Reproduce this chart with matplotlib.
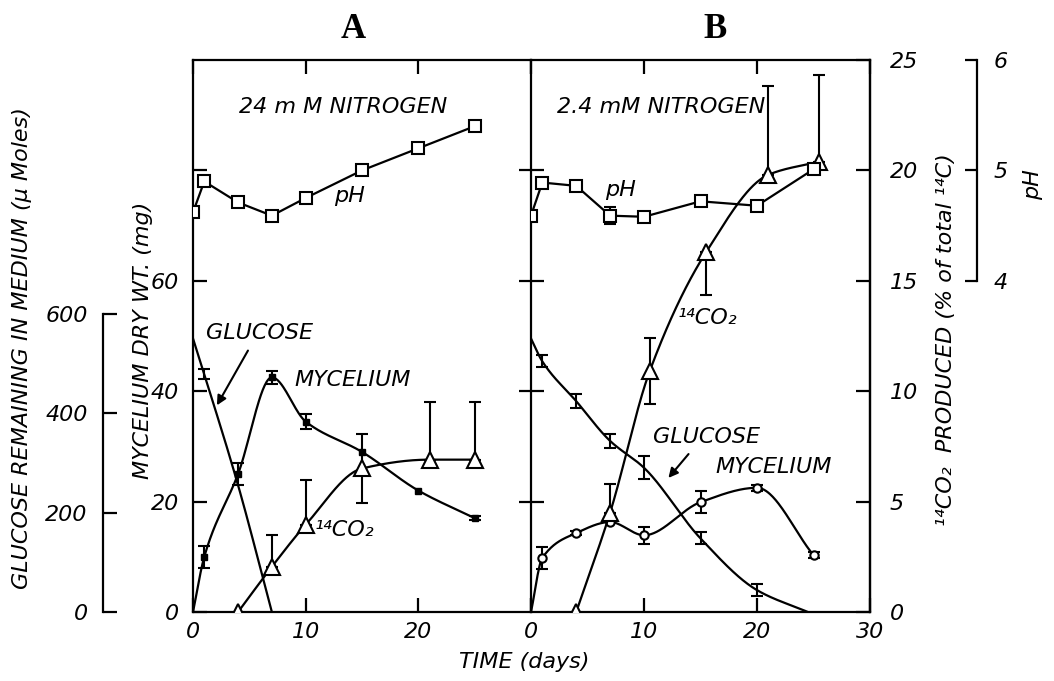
import numpy as np
import matplotlib
matplotlib.use("Agg")
import matplotlib.pyplot as plt

plt.rcParams['font.family'] = ['DejaVu Sans']
plt.rcParams['font.style'] = 'italic'
plt.rcParams['font.size'] = 16

# A: 24 mM nitrogen
a_ph_days = [0, 1, 4, 7, 10, 15, 20, 25]
a_ph = [4.62, 4.90, 4.71, 4.59, 4.75, 5.00, 5.20, 5.40]

a_myc_days = [0, 1, 4, 7, 10, 15, 20, 25]
a_myc = [0, 10, 25, 42.5, 34.5, 29, 22, 17]
a_myc_err = [0, 2, 2, 1.2, 1.4, 0, 0, 0.4]

a_glu_days = [0, 1, 4, 7]
a_glu = [550, 478, 255, 0]
a_glu_err = [0, 10, 0, 0]

a_co2_days = [4, 7, 10, 15, 21, 25]
a_co2 = [0, 2.05, 3.95, 6.5, 6.9, 6.9]
a_co2_lo = [0, 0, 0, 1.55, 0, 0]
a_co2_hi = [0, 1.45, 2.05, 1.55, 2.6, 2.6]

# B: 2.4 mM nitrogen
b_ph_days = [0, 1, 4, 7, 10, 15, 20, 25]
b_ph = [4.59, 4.89, 4.86, 4.59, 4.58, 4.72, 4.68, 5.01]
b_ph_err = [0, 0, 0.04, 0.08, 0, 0, 0, 0]

b_myc_days = [0, 1, 4, 7, 10, 15, 20, 25]
b_myc = [0, 9.8, 14.3, 16.3, 13.9, 19.9, 22.5, 10.3]
b_myc_err = [0, 2, 0.4, 0, 1.5, 2, 0.5, 0.6]

b_glu_days = [0, 1, 4, 7, 10, 15, 20, 24.5]
b_glu = [550, 504, 424, 344, 290, 148, 44, 0]
b_glu_err = [0, 12, 14, 14, 23, 12, 12, 0]

b_co2_days = [4, 7, 10.5, 15.5, 21, 25.5]
b_co2 = [0, 4.5, 10.9, 16.3, 19.8, 20.4]
b_co2_lo = [0, 0, 1.5, 1.95, 0, 0]
b_co2_hi = [0, 1.3, 1.5, 0, 4.0, 3.9]

W, H = 1054, 681
TOP, BOT = 60, 612
LW = 1.6
TXT = 16
TICK = 16


def rect(x0, x1, y0, y1):
    return [x0 / W, 1 - y1 / H, (x1 - x0) / W, (y1 - y0) / H]


def pchip(x, y, n=300):
    # monotone cubic through the measured points, for drawing the hand-drawn curves
    x = np.asarray(x, float)
    y = np.asarray(y, float)
    h = np.diff(x)
    d = np.diff(y) / h
    m = np.zeros_like(y)
    for k in range(1, len(x) - 1):
        if d[k - 1] * d[k] > 0:
            w1 = 2 * h[k] + h[k - 1]
            w2 = h[k] + 2 * h[k - 1]
            m[k] = (w1 + w2) / (w1 / d[k - 1] + w2 / d[k])
    m[0] = d[0]
    m[-1] = d[-1]
    xs = np.linspace(x[0], x[-1], n)
    i = np.clip(np.searchsorted(x, xs) - 1, 0, len(h) - 1)
    t = (xs - x[i]) / h[i]
    ys = ((2 * t**3 - 3 * t**2 + 1) * y[i] + (t**3 - 2 * t**2 + t) * h[i] * m[i]
          + (-2 * t**3 + 3 * t**2) * y[i + 1] + (t**3 - t**2) * h[i] * m[i + 1])
    return xs, ys


def bars(ax, x, y, lo, hi=None):
    if hi is None:
        hi = lo
    idx = [i for i in range(len(x)) if lo[i] > 0 or hi[i] > 0]
    ax.errorbar([x[i] for i in idx], [y[i] for i in idx],
                yerr=[[lo[i] for i in idx], [hi[i] for i in idx]],
                fmt='none', ecolor='k', elinewidth=1.5, capsize=4, capthick=1.5, zorder=3)


def make_panel(x0, x1):
    ax = fig.add_axes(rect(x0, x1, TOP, BOT))
    ax.set_xlim(0, 30)
    ax.set_ylim(0, 100)
    g = ax.twinx()
    g.set_ylim(0, 1110)
    c = ax.twinx()
    c.set_ylim(0, 25)
    p = ax.twinx()
    p.set_ylim(1, 6)
    for t in (g, c, p):
        t.set_axis_off()
    for s in ax.spines.values():
        s.set_linewidth(LW)
    ax.set_xticks([0, 10, 20, 30])
    ax.tick_params(axis='x', direction='in', length=10, width=LW, top=True, pad=7,
                   labelsize=TICK)
    return ax, g, c, p


fig = plt.figure(figsize=(W / 100, H / 100), dpi=100)

axA, gA, cA, pA = make_panel(193, 531)
axB, gB, cB, pB = make_panel(531, 870)

# panel A frame
axA.spines['right'].set_visible(False)
axA.set_xticklabels(['0', '10', '20', ''])
axA.set_yticks([0, 20, 40, 60, 80])
axA.set_yticklabels(['0', '20', '40', '60', ''])
axA.tick_params(axis='y', direction='in', length=10, width=LW, pad=10, labelsize=TICK)

# glucose axis, detached on the far left
gA.set_axis_on()
for s in ['top', 'right', 'bottom']:
    gA.spines[s].set_visible(False)
gA.spines['left'].set_visible(True)
gA.spines['left'].set_linewidth(LW)
gA.spines['left'].set_position(('axes', (103 - 193) / 338))
gA.spines['left'].set_bounds(0, 600)
gA.yaxis.set_ticks_position('left')
gA.set_yticks([0, 200, 400, 600])
gA.tick_params(axis='y', direction='in', length=10, width=LW, pad=11, labelsize=TICK)

# panel B frame
axB.set_xticklabels(['0', '10', '20', '30'])
axB.set_yticks([20, 40, 60, 80])
axB.set_yticklabels([])
axB.tick_params(axis='y', direction='inout', length=18, width=LW, right=False)

cB.set_axis_on()
for s in ['top', 'left', 'bottom']:
    cB.spines[s].set_visible(False)
cB.spines['right'].set_linewidth(LW)
cB.set_yticks([0, 5, 10, 15, 20, 25])
cB.tick_params(axis='y', direction='in', length=10, width=LW, pad=14, labelsize=TICK)

pB.set_axis_on()
for s in ['top', 'left', 'bottom']:
    pB.spines[s].set_visible(False)
pB.spines['right'].set_linewidth(LW)
pB.spines['right'].set_position(('axes', (977 - 531) / 339))
pB.spines['right'].set_bounds(4, 6)
pB.set_yticks([4, 5, 6])
pB.tick_params(axis='y', direction='in', length=9, width=LW, pad=12, labelsize=TICK)

# ---- data, panel A
pA.plot(a_ph_days, a_ph, 'k-', lw=LW, marker='s', ms=8, mfc='white', mew=1.5, zorder=4)

xs, ys = pchip(a_myc_days, a_myc)
axA.plot(xs, ys, 'k-', lw=LW)
axA.plot(a_myc_days[1:], a_myc[1:], 'ks', ms=4, zorder=4)
bars(axA, a_myc_days, a_myc, a_myc_err)

xs, ys = pchip(a_glu_days, a_glu)
gA.plot(xs, ys, 'k-', lw=LW)
bars(gA, a_glu_days, a_glu, a_glu_err)

xs, ys = pchip(a_co2_days, a_co2)
cA.plot(xs, ys, 'k-', lw=LW)
cA.plot(a_co2_days, a_co2, 'k^', ms=11, mfc='white', mew=1.5, zorder=4)
bars(cA, a_co2_days, a_co2, a_co2_lo, a_co2_hi)

# ---- data, panel B
pB.plot(b_ph_days, b_ph, 'k-', lw=LW, marker='s', ms=8, mfc='white', mew=1.5, zorder=4)
bars(pB, b_ph_days, b_ph, b_ph_err)

xs, ys = pchip(b_myc_days, b_myc)
axB.plot(xs, ys, 'k-', lw=LW)
axB.plot(b_myc_days[1:], b_myc[1:], 'ko', ms=6, mfc='white', mew=1.5, zorder=4)
bars(axB, b_myc_days, b_myc, b_myc_err)

xs, ys = pchip(b_glu_days, b_glu)
gB.plot(xs, ys, 'k-', lw=LW)
bars(gB, b_glu_days, b_glu, b_glu_err)

xs, ys = pchip(b_co2_days, b_co2)
cB.plot(xs, ys, 'k-', lw=LW)
cB.plot(b_co2_days, b_co2, 'k^', ms=11, mfc='white', mew=1.5, zorder=4)
bars(cB, b_co2_days, b_co2, b_co2_lo, b_co2_hi)

# ---- annotations
kw = dict(ha='center', va='center', fontsize=TXT)
axA.text(13.3, 91.5, '24 m M NITROGEN', **kw)
axA.text(13.9, 75.4, 'pH', **kw)
axA.text(5.9, 50.5, 'GLUCOSE', **kw)
axA.text(14.2, 42, 'MYCELIUM', **kw)
axA.text(13.4, 14.9, '¹⁴CO₂', **kw)
axA.annotate('', xy=(2.0, 37), xytext=(5.0, 47.8),
             arrowprops=dict(arrowstyle='-|>', color='k', lw=1.5, mutation_scale=14))

axB.text(11.5, 91.5, '2.4 mM NITROGEN', **kw)
axB.text(7.9, 76.4, 'pH', **kw)
axB.text(15.6, 53.3, '¹⁴CO₂', **kw)
axB.text(15.5, 31.7, 'GLUCOSE', **kw)
axB.text(21.5, 26.3, 'MYCELIUM', **kw)
axB.annotate('', xy=(12.0, 23.9), xytext=(14.1, 29),
             arrowprops=dict(arrowstyle='-|>', color='k', lw=1.5, mutation_scale=14))

fig.text(353 / W, 1 - 30 / H, 'A', ha='center', va='center', fontsize=25,
         family='Liberation Serif', weight='bold', style='normal')
fig.text(715 / W, 1 - 30 / H, 'B', ha='center', va='center', fontsize=25,
         family='Liberation Serif', weight='bold', style='normal')
fig.text(22 / W, 1 - 348 / H, 'GLUCOSE REMAINING IN MEDIUM (µ Moles)', rotation=90,
         ha='center', va='center', fontsize=TXT)
fig.text(143 / W, 1 - 340 / H, 'MYCELIUM DRY WT. (mg)', rotation=90,
         ha='center', va='center', fontsize=TXT)
fig.text(524 / W, 1 - 662 / H, 'TIME (days)', ha='center', va='center', fontsize=TXT)
fig.text(946 / W, 1 - 340 / H, '¹⁴CO₂  PRODUCED (% of total ¹⁴C)', rotation=90,
         ha='center', va='center', fontsize=TXT)
fig.text(1033 / W, 1 - 185 / H, 'pH', rotation=90, ha='center', va='center', fontsize=TXT)

fig.savefig('out.png', dpi=100)
